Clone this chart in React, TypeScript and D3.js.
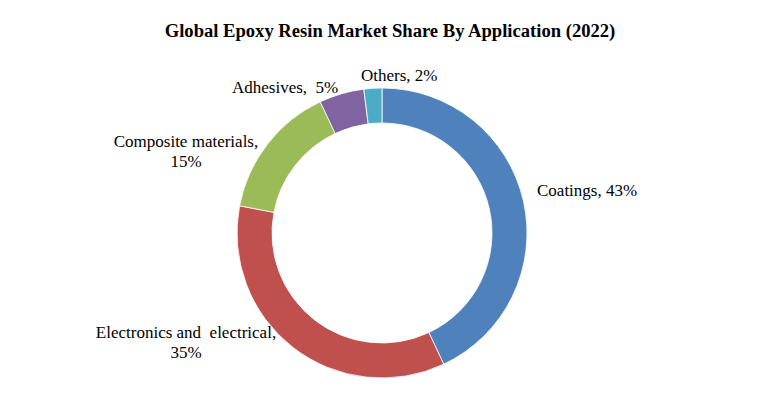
import React from "react";
import * as d3 from "d3";

const width = 781;
const height = 397;

const title = "Global Epoxy Resin Market Share By Application (2022)";

const categories = [
  "Coatings",
  "Electronics and  electrical",
  "Composite materials",
  "Adhesives",
  "Others",
];
const shares = [43, 35, 15, 5, 2];
const colors = ["#4F81BD", "#C0504D", "#9BBB59", "#8064A2", "#4BACC6"];

// label placement (text layout only): anchor, x, y of first line, two lines?
const labelLayout = [
  { anchor: "start", x: 537, y: 196, split: false },
  { anchor: "middle", x: 186, y: 338, split: true },
  { anchor: "middle", x: 186, y: 147, split: true },
  { anchor: "start", x: 232, y: 93, split: false },
  { anchor: "start", x: 361, y: 81, split: false },
];

const cx = 382;
const cy = 233;
const outerR = 145;
const innerR = 110;

export default function App() {
  const pie = d3
    .pie<number>()
    .sort(null)
    .value((d) => d);
  const arcs = pie(shares);
  const arc = d3
    .arc<d3.PieArcDatum<number>>()
    .innerRadius(innerR)
    .outerRadius(outerR);

  return (
    <svg
      width={width}
      height={height}
      style={{ position: "absolute", left: 0, top: 0, fontFamily: "'Liberation Serif', 'Times New Roman', serif" }}
    >
      <rect width={width} height={height} fill="#fff" />
      <text
        x={390}
        y={37}
        textAnchor="middle"
        fontWeight="bold"
        fontSize={18.6}
        fill="#000"
      >
        {title}
      </text>
      <g transform={`translate(${cx},${cy})`}>
        {arcs.map((a, i) => (
          <path
            key={categories[i]}
            d={arc(a) || ""}
            fill={colors[i]}
            stroke="#fff"
            strokeWidth={0.8}
          />
        ))}
      </g>
      {categories.map((c, i) => {
        const l = labelLayout[i];
        if (l.split) {
          return (
            <text
              key={c}
              x={l.x}
              y={l.y}
              textAnchor={l.anchor}
              fontSize={17}
              fill="#000"
              style={{ whiteSpace: "pre" }}
            >
              <tspan x={l.x}>{c},</tspan>
              <tspan x={l.x} dy={20}>
                {shares[i]}%
              </tspan>
            </text>
          );
        }
        return (
          <text
            key={c}
            x={l.x}
            y={l.y}
            textAnchor={l.anchor}
            fontSize={17}
            fill="#000"
            style={{ whiteSpace: "pre" }}
          >
            {c},{i === 3 ? "  " : " "}
            {shares[i]}%
          </text>
        );
      })}
    </svg>
  );
}
